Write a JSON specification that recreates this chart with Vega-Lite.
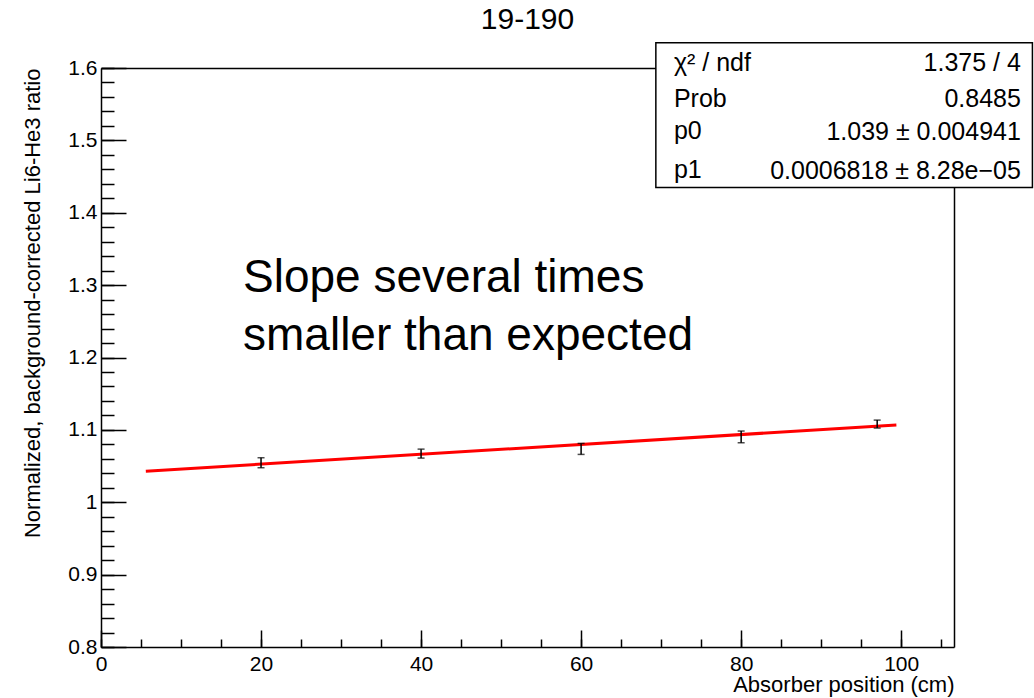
{
  "$schema": "https://vega.github.io/schema/vega-lite/v6.json",
  "width": 853,
  "height": 579,
  "autosize": {"type": "none"},
  "padding": {"left": 101, "top": 68, "right": 80, "bottom": 51},
  "background": "white",
  "title": {"text": "19-190", "fontSize": 30, "font": "Liberation Sans", "fontWeight": "normal", "color": "#000", "anchor": "middle", "frame": "group", "offset": 7},
  "config": {
    "font": "Liberation Sans",
    "view": {"stroke": null},
    "axis": {"grid": false, "domainColor": "#000", "domainWidth": 1.5, "tickColor": "#000", "tickWidth": 1.5, "labelColor": "#000", "labelFont": "Liberation Sans", "labelFontSize": 21, "titleFont": "Liberation Sans", "titleFontSize": 22, "titleFontWeight": "normal", "titleColor": "#000", "labelFlush": false, "labelOverlap": false}
  },
  "datasets": {
    "points": [
      {"x": 20, "y": 1.0546, "err": 0.0069},
      {"x": 40, "y": 1.0672, "err": 0.0062},
      {"x": 60, "y": 1.0737, "err": 0.0076},
      {"x": 80, "y": 1.0903, "err": 0.0081},
      {"x": 97, "y": 1.108, "err": 0.0055}
    ],
    "fit": [
      {"x": 5.6, "y": 1.0428},
      {"x": 99.4, "y": 1.1068}
    ]
  },
  "resolve": {"axis": {"x": "independent", "y": "independent"}},
  "layer": [
    {
      "data": {"name": "fit"},
      "mark": {"type": "line", "color": "#ff0000", "strokeWidth": 3},
      "encoding": {
        "x": {"field": "x", "type": "quantitative", "scale": {"domain": [0, 106.6], "nice": false, "zero": false},
              "axis": {"orient": "bottom", "values": [0,5,10,15,20,25,30,35,40,45,50,55,60,65,70,75,80,85,90,95,100,105], "tickSize": -8, "labels": false, "domain": true, "title": null}},
        "y": {"field": "y", "type": "quantitative", "scale": {"domain": [0.8, 1.6], "nice": false, "zero": false},
              "axis": {"orient": "left", "values": [0.8,0.82,0.84,0.86,0.88,0.9,0.92,0.94,0.96,0.98,1,1.02,1.04,1.06,1.08,1.1,1.12,1.14,1.16,1.18,1.2,1.22,1.24,1.26,1.28,1.3,1.32,1.34,1.36,1.38,1.4,1.42,1.44,1.46,1.48,1.5,1.52,1.54,1.56,1.58,1.6], "tickSize": -13, "labels": false, "domain": true, "title": null}}
      }
    },
    {
      "data": {"name": "points"},
      "mark": {"type": "errorbar", "color": "#000", "thickness": 1.5, "ticks": {"size": 7, "thickness": 1.5, "color": "#000"}},
      "encoding": {
        "x": {"field": "x", "type": "quantitative", "scale": {"domain": [0, 106.6], "nice": false, "zero": false},
              "axis": {"orient": "bottom", "values": [0,20,40,60,80,100], "tickSize": -17, "labelPadding": 23, "domain": false, "title": "Absorber position (cm)", "titleAnchor": "end", "titlePadding": 0}},
        "y": {"field": "y", "type": "quantitative", "scale": {"domain": [0.8, 1.6], "nice": false, "zero": false},
              "axis": {"orient": "left", "values": [0.8,0.9,1,1.1,1.2,1.3,1.4,1.5,1.6], "format": "~g", "tickSize": -25, "labelPadding": 29, "domain": false, "title": "Normalized, background-corrected Li6-He3 ratio", "titleAnchor": "end", "titlePadding": 23}},
        "yError": {"field": "err"}
      }
    },
    {
      "data": {"values": [{}]},
      "mark": {"type": "rect", "fill": "white", "stroke": "#000", "strokeWidth": 1.5},
      "encoding": {
        "x": {"datum": 69.34, "type": "quantitative", "scale": {"domain": [0, 106.6], "nice": false, "zero": false},
              "axis": {"orient": "top", "ticks": false, "labels": false, "domain": true, "title": null}},
        "x2": {"datum": 116.4},
        "y": {"datum": 1.635, "type": "quantitative", "scale": {"domain": [0.8, 1.6], "nice": false, "zero": false},
              "axis": {"orient": "right", "ticks": false, "labels": false, "domain": true, "title": null}},
        "y2": {"datum": 1.4349}
      }
    },
    {
      "data": {"values": [{}]},
      "mark": {"type": "text", "align": "left", "baseline": "alphabetic", "fontSize": 25, "color": "#000"},
      "encoding": {"x": {"datum": 71.6, "type": "quantitative", "axis": null}, "y": {"datum": 1.5953, "type": "quantitative", "axis": null}, "text": {"value": "χ² / ndf"}}
    },
    {
      "data": {"values": [{}]},
      "mark": {"type": "text", "align": "right", "baseline": "alphabetic", "fontSize": 25, "color": "#000"},
      "encoding": {"x": {"datum": 114.96, "type": "quantitative", "axis": null}, "y": {"datum": 1.5953, "type": "quantitative", "axis": null}, "text": {"value": "1.375 / 4"}}
    },
    {
      "data": {"values": [{}]},
      "mark": {"type": "text", "align": "left", "baseline": "alphabetic", "fontSize": 25, "color": "#000"},
      "encoding": {"x": {"datum": 71.6, "type": "quantitative", "axis": null}, "y": {"datum": 1.5461, "type": "quantitative", "axis": null}, "text": {"value": "Prob"}}
    },
    {
      "data": {"values": [{}]},
      "mark": {"type": "text", "align": "right", "baseline": "alphabetic", "fontSize": 25, "color": "#000"},
      "encoding": {"x": {"datum": 114.96, "type": "quantitative", "axis": null}, "y": {"datum": 1.5461, "type": "quantitative", "axis": null}, "text": {"value": "0.8485"}}
    },
    {
      "data": {"values": [{}]},
      "mark": {"type": "text", "align": "left", "baseline": "alphabetic", "fontSize": 25, "color": "#000"},
      "encoding": {"x": {"datum": 71.6, "type": "quantitative", "axis": null}, "y": {"datum": 1.5015, "type": "quantitative", "axis": null}, "text": {"value": "p0"}}
    },
    {
      "data": {"values": [{}]},
      "mark": {"type": "text", "align": "right", "baseline": "alphabetic", "fontSize": 25, "color": "#000"},
      "encoding": {"x": {"datum": 114.96, "type": "quantitative", "axis": null}, "y": {"datum": 1.4999, "type": "quantitative", "axis": null}, "text": {"value": "1.039 ± 0.004941"}}
    },
    {
      "data": {"values": [{}]},
      "mark": {"type": "text", "align": "left", "baseline": "alphabetic", "fontSize": 25, "color": "#000"},
      "encoding": {"x": {"datum": 71.6, "type": "quantitative", "axis": null}, "y": {"datum": 1.4485, "type": "quantitative", "axis": null}, "text": {"value": "p1"}}
    },
    {
      "data": {"values": [{}]},
      "mark": {"type": "text", "align": "right", "baseline": "alphabetic", "fontSize": 25, "color": "#000"},
      "encoding": {"x": {"datum": 114.96, "type": "quantitative", "axis": null}, "y": {"datum": 1.4469, "type": "quantitative", "axis": null}, "text": {"value": "0.0006818 ± 8.28e−05"}}
    },
    {
      "data": {"values": [{}]},
      "mark": {"type": "text", "align": "left", "baseline": "alphabetic", "fontSize": 46, "lineHeight": 58, "color": "#000"},
      "encoding": {"x": {"datum": 17.75, "type": "quantitative", "axis": null}, "y": {"datum": 1.2906, "type": "quantitative", "axis": null}, "text": {"value": ["Slope several times", "smaller than expected"]}}
    }
  ]
}
